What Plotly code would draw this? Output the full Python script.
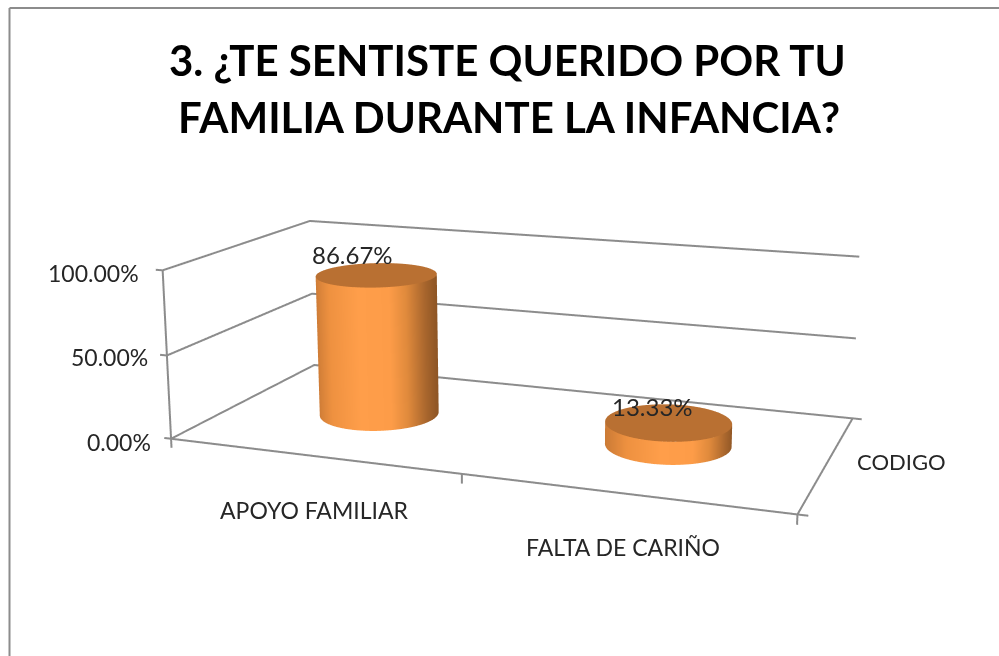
"""3D cylinder chart: ¿te sentiste querido por tu familia?"""

import numpy as np
import plotly.graph_objects as go

CATEGORIES = ["APOYO FAMILIAR", "FALTA DE CARIÑO"]
VALUES = [0.8667, 0.1333]
VALUE_LABELS = ["86.67%", "13.33%"]
Z_TICKS = [0.0, 0.5, 1.0]
Z_LABELS = ["0.00%", "50.00%", "100.00%"]
SERIES_NAME = "CODIGO"
TITLE_LINES = ["3. ¿TE SENTISTE QUERIDO POR TU", "FAMILIA DURANTE LA INFANCIA?"]

# the scene is larger than the window so the camera can sit off-axis like the original
FIG_W, FIG_H = 1086, 1300
TOP = -379
FONT = "Lato, sans-serif"
LINE = "#8c8c8c"
TEXT = "#262626"

X_RANGE = [-0.1, 2.1]
Y_RANGE = [-0.1, 1.1]
Z_RANGE = [-0.06, 1.06]
X_UNIT, Y_UNIT, Z_UNIT = 0.5, 0.479, 0.273
RADIUS = 0.099
VIEW_ANGLE = np.radians(20)

SIDE_COLORS = [
    [0.0, "#cc7b36"], [0.15, "#ee9140"], [0.4, "#ff9e4a"], [0.65, "#fd9c48"],
    [0.78, "#e08a3c"], [0.92, "#a8662d"], [1.0, "#8f5625"],
]
TOP_COLOR = "#b97032"
NO_LIGHT = dict(ambient=1, diffuse=0, specular=0, fresnel=0, roughness=1)


def px(x):
    return x / FIG_W


def py(y):
    return 1 - (y - TOP) / FIG_H


def line3d(xs, ys, zs):
    return go.Scatter3d(x=xs, y=ys, z=zs, mode="lines", line=dict(color=LINE, width=4),
                        hoverinfo="skip", showlegend=False)


def cylinder(center, value):
    rx, ry = RADIUS / X_UNIT, RADIUS / Y_UNIT
    theta = np.linspace(0, 2 * np.pi, 121)
    xs = center + rx * np.cos(theta)
    ys = 0.5 + ry * np.sin(theta)
    shade = np.cos(theta - VIEW_ANGLE)
    side = go.Surface(
        x=np.array([xs, xs]), y=np.array([ys, ys]), z=np.array([[0.0] * 121, [value] * 121]),
        surfacecolor=np.array([shade, shade]), cmin=-1, cmax=1,
        colorscale=SIDE_COLORS, showscale=False, lighting=NO_LIGHT, hoverinfo="skip",
    )
    radii = np.array([0.0, 1.0])
    cap = go.Surface(
        x=center + rx * np.outer(radii, np.cos(theta)), y=0.5 + ry * np.outer(radii, np.sin(theta)),
        z=np.full((2, 121), value), surfacecolor=np.zeros((2, 121)),
        colorscale=[[0, TOP_COLOR], [1, TOP_COLOR]], showscale=False, lighting=NO_LIGHT, hoverinfo="skip",
    )
    return [side, cap]


fig = go.Figure()

for z in Z_TICKS:
    fig.add_trace(line3d([0, 0, 2], [0, 1, 1], [z, z, z]))
    fig.add_trace(line3d([-0.025, 0], [0, 0], [z, z]))
fig.add_trace(line3d([0, 0], [0, 0], [Z_TICKS[0], Z_TICKS[-1]]))
fig.add_trace(line3d([0, 2, 2], [0, 0, 1], [0, 0, 0]))
for i in range(len(CATEGORIES) + 1):
    fig.add_trace(line3d([i, i], [0, 0], [0, -0.055]))
fig.add_trace(line3d([2, 2.03], [0, 0], [0, 0]))
fig.add_trace(line3d([2, 2.03], [1, 1], [0, 0]))

for i, v in enumerate(VALUES):
    for tr in cylinder(i + 0.5, v):
        fig.add_trace(tr)

scene_notes = []
for z, label, shift_x, shift_y in zip(Z_TICKS, Z_LABELS, [-18, -17, -22], [-3, -2, -3]):
    scene_notes.append(dict(x=0, y=0, z=z, text=label, showarrow=False, xanchor="right",
                            xshift=shift_x, yshift=shift_y))
for i, (cat, shift_x, shift_y) in enumerate(zip(CATEGORIES, [3, 0], [-54, -54])):
    scene_notes.append(dict(x=i + 0.5, y=0, z=0, text=cat, showarrow=False, xshift=shift_x, yshift=shift_y))
scene_notes.append(dict(x=2, y=0.5, z=0, text=SERIES_NAME, showarrow=False, xanchor="left", xshift=27, yshift=0,
                        font=dict(size=22)))
for i, (v, label, shift_x, shift_y) in enumerate(zip(VALUES, VALUE_LABELS, [-24, -16], [20, 16])):
    scene_notes.append(dict(x=i + 0.5, y=0.5, z=v, text=label, showarrow=False, xshift=shift_x, yshift=shift_y,
                            font=dict(size=24)))

hidden = dict(visible=False, showgrid=False, zeroline=False, showticklabels=False, showspikes=False)
fig.update_layout(
    width=FIG_W, height=FIG_H, margin=dict(l=0, r=0, t=0, b=0, pad=0),
    paper_bgcolor="white", showlegend=False,
    font=dict(family=FONT, size=23, color=TEXT),
    scene=dict(
        domain=dict(x=[0, 1], y=[0, 1]),
        xaxis=dict(range=X_RANGE, **hidden),
        yaxis=dict(range=Y_RANGE, **hidden),
        zaxis=dict(range=Z_RANGE, **hidden),
        aspectmode="manual",
        aspectratio=dict(x=X_UNIT * (X_RANGE[1] - X_RANGE[0]),
                         y=Y_UNIT * (Y_RANGE[1] - Y_RANGE[0]),
                         z=Z_UNIT * (Z_RANGE[1] - Z_RANGE[0])),
        camera=dict(eye=dict(x=0.867, y=-2.283, z=0.626),
                    center=dict(x=-0.005, y=0.128, z=0.099),
                    up=dict(x=0.002, y=0, z=1),
                    projection=dict(type="perspective")),
        annotations=scene_notes,
    ),
    annotations=[
        dict(x=px(x), y=py(y), xref="paper", yref="paper", text=line, showarrow=False,
             font=dict(family=FONT, size=42, color="#000000", weight="bold"))
        for line, x, y in zip(TITLE_LINES, [507.5, 509], [60, 117])
    ],
    shapes=[
        dict(type="line", xref="paper", yref="paper", x0=px(9.5), x1=px(9.5), y0=py(8), y1=py(656),
             line=dict(color=LINE, width=2)),
        dict(type="line", xref="paper", yref="paper", x0=px(9.5), x1=px(999), y0=py(8), y1=py(8),
             line=dict(color=LINE, width=2)),
    ],
)

page_fix = (
    "document.documentElement.style.overflow='hidden';"
    "document.body.style.margin='0';document.body.style.overflow='hidden';"
    "var g=document.getElementById('{plot_id}');"
    "g.style.position='absolute';g.style.left='0px';g.style.top='%dpx';" % TOP
)
fig.write_html("out.html", config=dict(displayModeBar=False), post_script=page_fix)
